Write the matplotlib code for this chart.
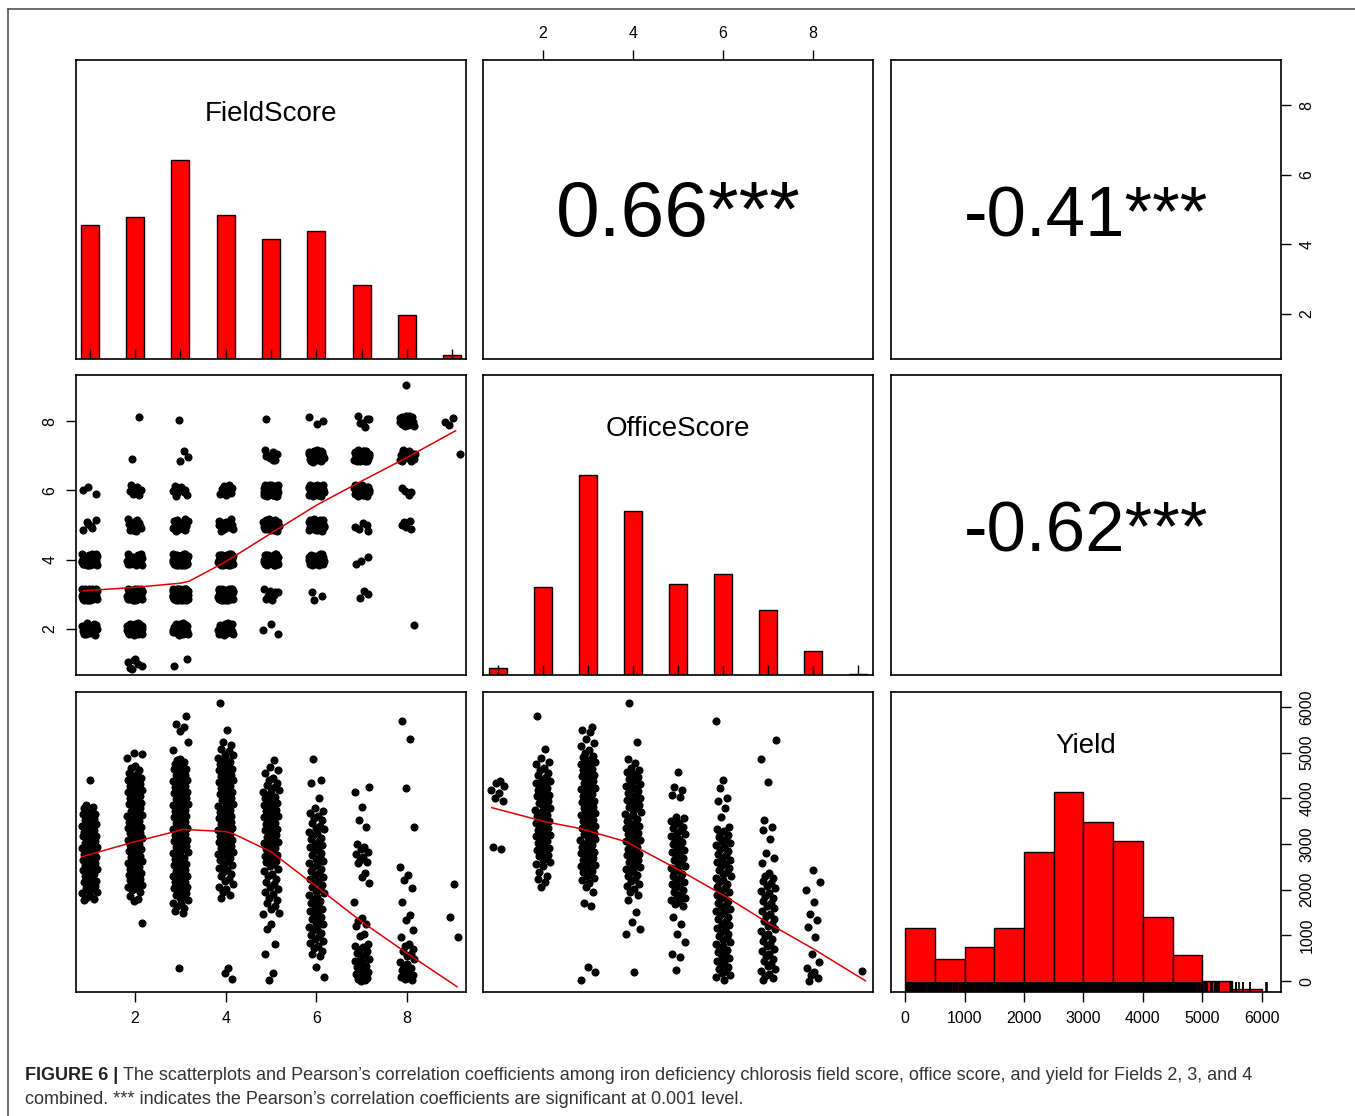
import numpy as np
import matplotlib.pyplot as plt
from matplotlib.lines import Line2D
from matplotlib.transforms import blended_transform_factory

plt.rcParams['font.family'] = ['Liberation Sans', 'DejaVu Sans']

# ---- data -------------------------------------------------------------
scores = np.arange(1, 10)

# number of plots per (OfficeScore row, FieldScore column)
score_counts = np.array([
    # field: 1   2   3   4   5   6   7   8  9
    [0,   7,  2,  0,  0,  0,  0,  0, 0],   # office 1
    [20, 42, 28, 24,  3,  0,  0,  1, 0],   # office 2
    [60, 50, 85, 58,  8,  3,  3,  0, 0],   # office 3
    [45, 22, 52, 42, 30, 25,  3,  0, 0],   # office 4
    [6,  12, 20, 12, 26, 36,  5,  5, 0],   # office 5
    [3,   7,  9,  8, 44, 36, 24,  4, 0],   # office 6
    [0,   1,  3,  0,  8, 25, 33, 16, 1],   # office 7
    [0,   1,  1,  0,  1,  3,  6, 17, 3],   # office 8
    [0,   0,  0,  0,  0,  0,  0,  1, 0],   # office 9
])

# yield (kg/ha) of the plots, grouped by field score 1..9
yield_by_field = [
    [4400, 3860, 3810, 3790, 3730, 3700, 3660, 3650, 3600, 3570, 3540, 3530, 3480, 3450,
     3440, 3390, 3360, 3330, 3310, 3270, 3250, 3210, 3180, 3170, 3120, 3090, 3070, 3020,
     3000, 2980, 2930, 2910, 2870, 2860, 2810, 2790, 2750, 2720, 2710, 2660, 2640, 2600,
     2590, 2540, 2510, 2490, 2450, 2430, 2390, 2350, 2340, 2290, 2260, 2240, 2200, 2170,
     2140, 2110, 2080, 2040, 2020, 1980, 1950, 1920, 1870, 1830, 1790, 1770],
    [5000, 4960, 4880, 4710, 4660, 4620, 4560, 4530, 4480, 4450, 4410, 4380, 4330, 4310,
     4270, 4230, 4200, 4180, 4140, 4100, 4070, 4040, 4000, 3980, 3940, 3900, 3880, 3840,
     3800, 3780, 3730, 3710, 3680, 3640, 3610, 3570, 3550, 3510, 3480, 3450, 3420, 3380,
     3350, 3320, 3290, 3250, 3230, 3190, 3160, 3130, 3090, 3070, 3030, 3000, 2970, 2940,
     2900, 2880, 2840, 2810, 2780, 2740, 2720, 2680, 2650, 2620, 2580, 2560, 2520, 2490,
     2460, 2430, 2390, 2370, 2330, 2300, 2270, 2230, 2210, 2170, 2140, 2100, 2070, 2040,
     1990, 1940, 1870, 1800, 1760, 1270],
    [5800, 5620, 5560, 5480, 5240, 5060, 4860, 4830, 4790, 4760, 4720, 4690, 4650, 4630,
     4590, 4560, 4520, 4500, 4460, 4430, 4390, 4370, 4330, 4300, 4260, 4240, 4200, 4170,
     4130, 4110, 4070, 4040, 4000, 3980, 3940, 3910, 3870, 3850, 3810, 3780, 3740, 3720,
     3680, 3650, 3610, 3590, 3550, 3520, 3480, 3460, 3420, 3390, 3350, 3330, 3290, 3260,
     3220, 3200, 3160, 3130, 3090, 3070, 3030, 3000, 2960, 2940, 2900, 2870, 2830, 2810,
     2770, 2740, 2700, 2680, 2640, 2610, 2570, 2550, 2510, 2480, 2440, 2420, 2380, 2350,
     2310, 2290, 2250, 2220, 2180, 2160, 2120, 2090, 2050, 2030, 1990, 1960, 1920, 1890,
     1850, 1810, 1770, 1720, 1680, 1640, 1590, 1530, 1500, 280],
    [6080, 5500, 5230, 5160, 5080, 5030, 4970, 4940, 4890, 4860, 4820, 4790, 4750, 4720,
     4680, 4650, 4610, 4590, 4550, 4520, 4480, 4460, 4420, 4390, 4350, 4330, 4290, 4260,
     4220, 4200, 4160, 4130, 4090, 4070, 4030, 4000, 3960, 3940, 3900, 3870, 3830, 3810,
     3770, 3740, 3700, 3680, 3640, 3610, 3570, 3550, 3510, 3480, 3440, 3420, 3380, 3350,
     3310, 3290, 3250, 3220, 3180, 3160, 3120, 3090, 3050, 3030, 2990, 2960, 2920, 2900,
     2860, 2830, 2790, 2770, 2730, 2700, 2660, 2620, 2570, 2530, 2480, 2440, 2390, 2350,
     2300, 2240, 2190, 2130, 2070, 2010, 1950, 1880, 1830, 280, 180, 40],
    [4840, 4680, 4610, 4560, 4440, 4400, 4340, 4290, 4250, 4220, 4180, 4140, 4110, 4070,
     4030, 4000, 3960, 3930, 3890, 3860, 3820, 3790, 3750, 3720, 3680, 3650, 3610, 3580,
     3540, 3510, 3470, 3440, 3400, 3370, 3330, 3300, 3260, 3230, 3190, 3160, 3120, 3090,
     3050, 3020, 2980, 2950, 2910, 2880, 2840, 2810, 2770, 2740, 2700, 2670, 2630, 2600,
     2560, 2510, 2460, 2400, 2350, 2290, 2240, 2180, 2130, 2070, 2010, 1960, 1900, 1830,
     1770, 1700, 1640, 1570, 1500, 1470, 1260, 1150, 820, 600, 170, 20],
    [4860, 4400, 4340, 4000, 3780, 3720, 3680, 3610, 3560, 3520, 3470, 3400, 3360, 3320,
     3270, 3230, 3190, 3140, 3100, 3060, 3010, 2970, 2930, 2880, 2840, 2800, 2750, 2710,
     2670, 2620, 2580, 2540, 2490, 2450, 2410, 2360, 2320, 2280, 2230, 2190, 2150, 2100,
     2060, 2020, 1970, 1930, 1890, 1840, 1800, 1760, 1710, 1670, 1630, 1580, 1540, 1500,
     1450, 1410, 1370, 1320, 1280, 1240, 1190, 1150, 1110, 1060, 1020, 980, 930, 880, 830,
     780, 720, 660, 600, 540, 310, 90],
    [4250, 4140, 3820, 3530, 3380, 2990, 2940, 2880, 2830, 2780, 2720, 2660, 2610, 2580,
     2360, 2280, 2140, 1740, 1380, 1320, 1260, 1200, 1040, 980, 820, 780, 740, 690, 650,
     610, 570, 530, 490, 450, 410, 380, 340, 300, 260, 230, 190, 160, 130, 100, 70, 50,
     30, 10],
    [5680, 5290, 4220, 3380, 2500, 2320, 2210, 2030, 1740, 1450, 1330, 1110, 970, 820, 760,
     700, 650, 590, 540, 480, 430, 380, 330, 290, 250, 210, 170, 140, 100, 70, 40, 20],
    [2120, 1410, 970],
]

# yield (kg/ha) grouped by office score 1..9
yield_by_office = [
    [4380, 4330, 4270, 4180, 4110, 4000, 3930, 2940, 2900],
    [5800, 5070, 4880, 4800, 4740, 4660, 4610, 4560, 4500, 4460, 4410, 4380, 4340, 4300,
     4270, 4230, 4190, 4160, 4120, 4080, 4050, 4010, 3970, 3940, 3900, 3860, 3830, 3790,
     3750, 3720, 3680, 3640, 3610, 3570, 3530, 3500, 3460, 3420, 3390, 3350, 3310, 3280,
     3240, 3200, 3170, 3130, 3090, 3060, 3020, 2980, 2950, 2910, 2870, 2840, 2800, 2760,
     2730, 2690, 2650, 2610, 2560, 2510, 2390, 2300, 2240, 2180, 2070],
    [5570, 5500, 5460, 5290, 5220, 5140, 5060, 4990, 4930, 4900, 4860, 4830, 4790, 4760,
     4720, 4690, 4650, 4620, 4580, 4550, 4510, 4480, 4440, 4410, 4370, 4340, 4300, 4270,
     4230, 4200, 4160, 4130, 4090, 4060, 4020, 3990, 3950, 3920, 3880, 3850, 3810, 3780,
     3740, 3710, 3670, 3640, 3600, 3570, 3530, 3500, 3460, 3430, 3390, 3360, 3320, 3290,
     3250, 3220, 3180, 3150, 3110, 3080, 3040, 3010, 2970, 2940, 2900, 2870, 2830, 2800,
     2760, 2730, 2690, 2660, 2620, 2590, 2550, 2520, 2480, 2450, 2410, 2380, 2340, 2300,
     2260, 2220, 2150, 2060, 1960, 1700, 1640, 310, 190, 20],
    [6090, 5230, 4870, 4770, 4660, 4620, 4580, 4540, 4500, 4460, 4420, 4390, 4350, 4310,
     4270, 4230, 4200, 4160, 4120, 4080, 4040, 4010, 3970, 3930, 3890, 3850, 3820, 3780,
     3740, 3700, 3660, 3630, 3590, 3550, 3510, 3470, 3440, 3400, 3360, 3320, 3280, 3250,
     3210, 3170, 3130, 3090, 3060, 3020, 2980, 2940, 2900, 2870, 2830, 2790, 2750, 2710,
     2680, 2640, 2600, 2560, 2520, 2490, 2450, 2410, 2370, 2330, 2290, 2240, 2190, 2130,
     2080, 2020, 1960, 1880, 1770, 1510, 1290, 1150, 1040, 200],
    [4580, 4250, 4180, 4070, 4030, 3600, 3560, 3510, 3470, 3430, 3380, 3340, 3300, 3250,
     3210, 3170, 3120, 3080, 3040, 2990, 2950, 2910, 2860, 2820, 2780, 2730, 2690, 2650,
     2600, 2560, 2520, 2470, 2430, 2390, 2340, 2300, 2260, 2210, 2170, 2130, 2080, 2040,
     2000, 1950, 1910, 1870, 1820, 1780, 1740, 1690, 1650, 1410, 1260, 1040, 860, 600,
     530, 240],
    [5680, 4400, 4220, 4000, 3930, 3780, 3600, 3380, 3330, 3290, 3240, 3200, 3150, 3110,
     3060, 3020, 2970, 2930, 2880, 2840, 2790, 2750, 2700, 2660, 2610, 2570, 2520, 2480,
     2430, 2390, 2340, 2300, 2250, 2210, 2160, 2120, 2070, 2030, 1980, 1940, 1890, 1850,
     1800, 1760, 1710, 1670, 1620, 1580, 1530, 1490, 1440, 1400, 1350, 1310, 1260, 1220,
     1170, 1130, 1080, 1040, 990, 950, 900, 860, 810, 770, 720, 680, 630, 590, 540, 500,
     450, 410, 360, 320, 270, 230, 180, 140, 90, 20],
    [5280, 4860, 4360, 3530, 3380, 3310, 3120, 2800, 2700, 2590, 2360, 2310, 2250, 2200,
     2140, 2090, 2030, 1980, 1920, 1870, 1810, 1760, 1700, 1650, 1590, 1540, 1480, 1430,
     1370, 1320, 1260, 1210, 1150, 1100, 1040, 990, 930, 880, 820, 770, 710, 660, 600,
     550, 490, 440, 380, 330, 270, 220, 160, 110, 60, 20],
    [2430, 2180, 1990, 1740, 1480, 1330, 1190, 970, 600, 420, 280, 200, 130, 60, 10],
    [220],
]

# yield histogram (500 kg/ha bins)
yield_bins = np.arange(0, 6001, 500)
yield_bin_counts = [64, 33, 45, 64, 139, 199, 169, 150, 75, 37, 11, 3]

# lowess smooths
smooth_fo_x = [0.86, 2, 3, 3.2, 4, 5, 6, 7, 8, 9.07]
smooth_fo_y = [3.10, 3.2, 3.32, 3.38, 3.94, 4.76, 5.57, 6.27, 6.95, 7.72]
smooth_fy_x = [0.82, 2, 3.07, 4.02, 4.2, 5, 6, 7, 8, 9.1]
smooth_fy_y = [2720, 3050, 3320, 3270, 3210, 2830, 2070, 1300, 610, -120]
smooth_oy_x = [0.865, 2.04, 2.82, 3.85, 5.1, 6.06, 7.02, 8.05, 9.16]
smooth_oy_y = [3795, 3490, 3340, 3050, 2390, 1850, 1260, 680, 10]

corr_values = {(0, 1): 0.66, (0, 2): -0.41, (1, 2): -0.62}
corr_sizes = {(0, 1): 56.5, (0, 2): 51, (1, 2): 51}
var_names = ['FieldScore', 'OfficeScore', 'Yield']

field_lim = (0.7, 9.3)
office_lim = (0.67, 9.33)
yield_lim = (-237, 6325)
lims = [field_lim, office_lim, yield_lim]


def halton(i, base):
    f, r = 1.0, 0.0
    while i > 0:
        f /= base
        r += f * (i % base)
        i //= base
    return r


def spread(n, start, base, amount=0.17):
    return np.array([(halton(start + i, base) - 0.5) * 2 * amount for i in range(n)])


# ---- layout -----------------------------------------------------------
W, H = 1355, 1116
fig = plt.figure(figsize=(W / 100, H / 100), dpi=100)
col_left = [76, 483, 891]
col_w = 390
row_top = [60, 375, 692]
row_h = [299, 300, 300]

axes = [[None] * 3 for _ in range(3)]
for r in range(3):
    for c in range(3):
        ax = fig.add_axes([col_left[c] / W, 1 - (row_top[r] + row_h[r]) / H,
                           col_w / W, row_h[r] / H])
        ax.set_xlim(lims[c])
        ax.set_ylim(lims[r])
        ax.set_xticks([])
        ax.set_yticks([])
        for s in ax.spines.values():
            s.set_linewidth(1.2)
            s.set_color('black')
        axes[r][c] = ax

dot = dict(s=34, c='black', linewidths=0, zorder=2)
smooth = dict(color='#e00000', lw=1.1, zorder=3)

# FieldScore vs OfficeScore
ax = axes[1][0]
px, py = [], []
for j in range(9):
    for k in range(9):
        n = score_counts[j, k]
        if n:
            start = 1 + 11 * k + 17 * j
            px.extend(scores[k] + spread(n, start, 2))
            py.extend(scores[j] + spread(n, start, 3))
ax.scatter(px, py, **dot)
ax.plot(smooth_fo_x, smooth_fo_y, **smooth)

# FieldScore vs Yield
ax = axes[2][0]
for k, vals in enumerate(yield_by_field):
    ax.scatter(scores[k] + spread(len(vals), 1 + 29 * k, 2), vals, **dot)
ax.plot(smooth_fy_x, smooth_fy_y, **smooth)

# OfficeScore vs Yield
ax = axes[2][1]
for k, vals in enumerate(yield_by_office):
    ax.scatter(scores[k] + spread(len(vals), 5 + 31 * k, 2), vals, **dot)
ax.plot(smooth_oy_x, smooth_oy_y, **smooth)

# diagonal histograms
bar = dict(color='#ff0000', edgecolor='black', linewidth=1.0, zorder=2)
field_hist = score_counts.sum(axis=0)
office_hist = score_counts.sum(axis=1)
for i, counts in enumerate([field_hist, office_hist]):
    ax = axes[i][i]
    ax.set_ylim(0, 1.5)
    ax.bar(scores, counts / counts.max(), width=0.4, **bar)
    tr = blended_transform_factory(ax.transData, ax.transAxes)
    ax.vlines(scores[counts > 0], 0, 0.032, transform=tr, color='black', lw=1, zorder=3)

ax = axes[2][2]
ax.set_ylim(0, 1.5)
yc = np.array(yield_bin_counts, dtype=float)
ax.bar(yield_bins[:-1], yc / yc.max(), width=500, align='edge', **bar)
all_yield = np.concatenate([np.array(v) for v in yield_by_field + yield_by_office])
tr = blended_transform_factory(ax.transData, ax.transAxes)
ax.vlines(all_yield, 0, 0.032, transform=tr, color='black', lw=1.2, zorder=3)

for i, name in enumerate(var_names):
    axes[i][i].text(0.5, 0.797, name, transform=axes[i][i].transAxes,
                    ha='center', va='baseline', fontsize=20)

# correlation coefficients
for (r, c), val in corr_values.items():
    axes[r][c].text(0.5, 0.41, f'{val:.2f}***', transform=axes[r][c].transAxes,
                    ha='center', va='baseline', fontsize=corr_sizes[(r, c)])

# outer axes
tick = dict(direction='out', length=7.5, width=1, labelsize=11.5, pad=6, colors='black')
even = [2, 4, 6, 8]

ax = axes[0][1]
ax.xaxis.set_ticks_position('top')
ax.set_xticks(even)
ax.tick_params(axis='x', **tick)

ax = axes[0][2]
ax.yaxis.set_ticks_position('right')
ax.set_ylim(field_lim)
ax.set_yticks(even)
ax.tick_params(axis='y', labelrotation=90, **tick)

ax = axes[1][0]
ax.set_yticks(even)
ax.tick_params(axis='y', labelrotation=90, **tick)

ax = axes[2][0]
ax.set_xticks(even)
ax.tick_params(axis='x', **tick)

ax = axes[2][2]
ax.set_xticks(range(0, 6001, 1000))
ax.tick_params(axis='x', **tick)
ax2 = ax.twinx()
ax2.set_ylim(yield_lim)
ax2.set_yticks(range(0, 6001, 1000))
ax2.tick_params(axis='y', labelrotation=90, **tick)
for s in ax2.spines.values():
    s.set_visible(False)

for a in [axes[0][2], axes[1][0], ax2]:
    for lab in a.get_yticklabels():
        lab.set_va('center')

# frame and caption
fig.add_artist(Line2D([8 / W, 8 / W], [0, 1 - 9 / H], transform=fig.transFigure,
                      color='#555555', lw=1.2))
fig.add_artist(Line2D([8 / W, 1], [1 - 9 / H, 1 - 9 / H], transform=fig.transFigure,
                      color='#555555', lw=1.2))

cap_size = 13
t1 = fig.text(25 / W, 1 - 1075 / H, 'FIGURE 6 |', fontsize=cap_size, fontweight='bold',
              color='#222222', va='center', ha='left')
axes[0][0].annotate(
    "The scatterplots and Pearson\u2019s correlation coefficients among iron deficiency "
    "chlorosis field score, office score, and yield for Fields 2, 3, and 4",
    xy=(1, 0), xycoords=t1, xytext=(3.5, 0), textcoords='offset points',
    fontsize=cap_size, color='#333333', va='bottom', ha='left',
    annotation_clip=False)
fig.text(25 / W, 1 - 1100 / H,
         "combined. *** indicates the Pearson\u2019s correlation coefficients are "
         "significant at 0.001 level.",
         fontsize=cap_size, color='#333333', va='center', ha='left')

fig.savefig('out.png', dpi=100)
